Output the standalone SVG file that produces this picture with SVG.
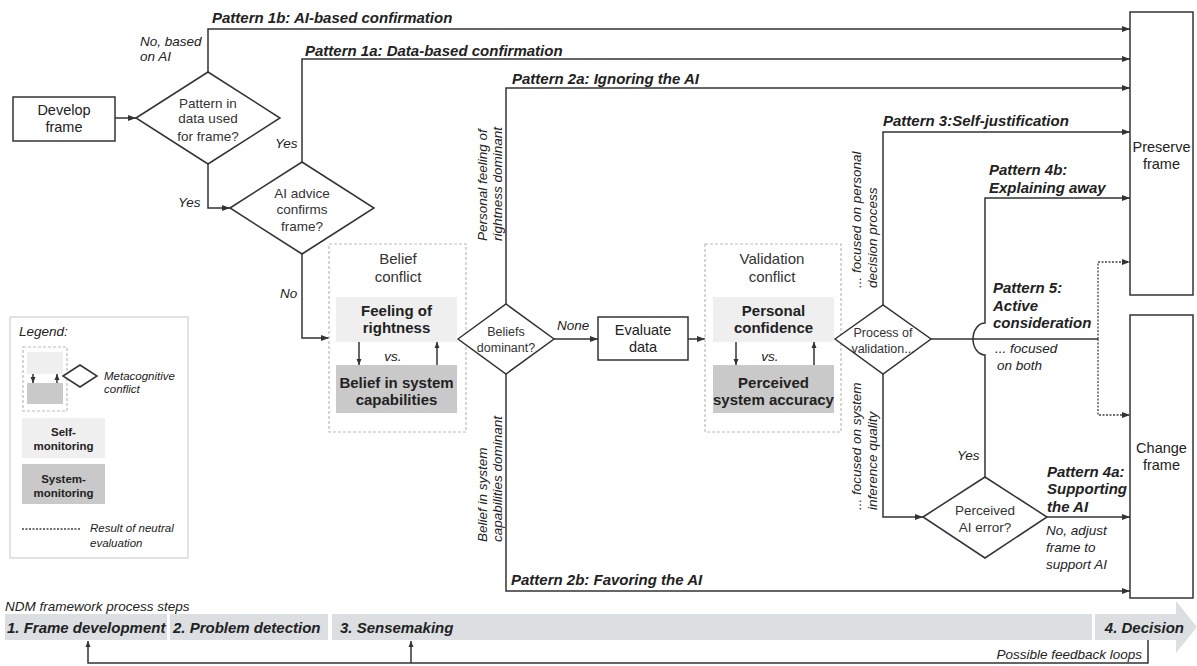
<svg xmlns="http://www.w3.org/2000/svg" width="1197" height="666" viewBox="0 0 1197 666">
<style>
.ln{stroke:#333;stroke-width:1.5;fill:none}
.dot{stroke:#444;stroke-width:1.3;fill:none;stroke-dasharray:2 1.5}
.box{fill:#fff;stroke:#333;stroke-width:1.5}
.dia{fill:#fff;stroke:#333;stroke-width:1.5}
.lite{fill:#efefef}
.dark{fill:#c9c9c9}
.dash{fill:none;stroke:#bbb;stroke-width:1.2;stroke-dasharray:3 2}
.band{fill:#dcdfe2}
text{font-family:"Liberation Sans",Arial,Helvetica,sans-serif;fill:#222}
.pat{font-size:15px;font-weight:bold;font-style:italic}
.it{font-size:13.5px;font-style:italic}
.n{font-size:14.5px;text-anchor:middle}
.d{font-size:13.5px;text-anchor:middle;fill:#333}
.ds{font-size:12.5px;text-anchor:middle;fill:#333}
.b{font-size:15px;font-weight:bold;text-anchor:middle}
.cl{font-size:15px;text-anchor:middle;fill:#333}
.lg{font-size:11.5px;font-style:italic}
.lb{font-size:11.5px;font-weight:bold;text-anchor:middle}
</style>
<defs>
<marker id="ah" markerWidth="8" markerHeight="8" refX="8" refY="4" orient="auto" markerUnits="userSpaceOnUse"><path d="M0,1 L8,4 L0,7 z" fill="#333"/></marker>
<marker id="as" markerWidth="6" markerHeight="6" refX="6" refY="3" orient="auto" markerUnits="userSpaceOnUse"><path d="M0,0.5 L6,3 L0,5.5 z" fill="#333"/></marker>
</defs>

<g id="legend">
<rect x="10" y="317" width="178" height="241" fill="#fff" stroke="#d0d0d0" stroke-width="1.2"/>
<text class="it" x="19" y="336">Legend:</text>
<rect class="dash" x="23" y="347" width="44" height="64"/>
<rect class="lite" x="27" y="352" width="36" height="22"/>
<rect class="dark" x="27" y="383" width="36" height="21"/>
<path class="ln" d="M33,374 V383" marker-end="url(#as)" stroke-width="1.2"/>
<path class="ln" d="M57,383 V374" marker-end="url(#as)" stroke-width="1.2"/>
<polygon class="dia" points="63,376 80,365 97,376 80,387"/>
<text class="lg" x="104" y="380">Metacognitive</text>
<text class="lg" x="104" y="393">conflict</text>
<rect class="lite" x="22" y="418" width="83" height="40"/>
<text class="lb" x="63.5" y="436">Self-</text>
<text class="lb" x="63.5" y="450">monitoring</text>
<rect class="dark" x="22" y="464" width="83" height="40"/>
<text class="lb" x="63.5" y="483">System-</text>
<text class="lb" x="63.5" y="497">monitoring</text>
<path class="dot" d="M22,529 H80"/>
<text class="lg" x="90" y="532">Result of neutral</text>
<text class="lg" x="90" y="547">evaluation</text>
</g>

<g id="connectors">
<path class="ln" d="M115,118 H136" marker-end="url(#ah)"/>
<path class="ln" d="M208,72 V29 H1130" marker-end="url(#ah)"/>
<path class="ln" d="M208,164 V208 H230" marker-end="url(#ah)"/>
<path class="ln" d="M302,162 V59 H1130" marker-end="url(#ah)"/>
<path class="ln" d="M302,254 V338 H329" marker-end="url(#ah)"/>
<path class="ln" d="M506,304 V88 H1130" marker-end="url(#ah)"/>
<path class="ln" d="M506,374 V591 H1130" marker-end="url(#ah)"/>
<path class="ln" d="M554,339 H598" marker-end="url(#ah)"/>
<path class="ln" d="M688,339 H705" marker-end="url(#ah)"/>
<path class="ln" d="M883,305 V132 H1130" marker-end="url(#ah)"/>
<path class="ln" d="M883,374 V517 H923" marker-end="url(#ah)"/>
<path class="ln" d="M985,477 V355 A12,16 0 0 1 985,323 V198 H1130" marker-end="url(#ah)"/>
<path class="ln" d="M1047,517 H1130" marker-end="url(#ah)"/>
<path class="ln" d="M931,339 H1098"/>
<path class="dot" d="M1098,339 V262 H1130" marker-end="url(#ah)"/>
<path class="dot" d="M1098,339 V415 H1130" marker-end="url(#ah)"/>
<path class="ln" d="M359,342 V365" marker-end="url(#as)"/>
<path class="ln" d="M437,365 V342" marker-end="url(#as)"/>
<path class="ln" d="M736,342 V365" marker-end="url(#as)"/>
<path class="ln" d="M814,365 V342" marker-end="url(#as)"/>
</g>

<g id="connector-labels">
<text class="pat" x="212" y="23">Pattern 1b: AI-based confirmation</text>
<text class="it" x="140" y="46">No, based</text>
<text class="it" x="140" y="61">on AI</text>
<text class="pat" x="305" y="56">Pattern 1a: Data-based confirmation</text>
<text class="it" x="275" y="148">Yes</text>
<text class="it" x="178" y="207">Yes</text>
<text class="it" x="280" y="298">No</text>
<text class="pat" x="512" y="84">Pattern 2a: Ignoring the AI</text>
<text class="pat" x="511" y="585">Pattern 2b: Favoring the AI</text>
<text class="it" transform="translate(487,241) rotate(-90)">Personal feeling of</text>
<text class="it" transform="translate(502,241) rotate(-90)">rightness dominant</text>
<text class="it" transform="translate(487,542) rotate(-90)">Belief in system</text>
<text class="it" transform="translate(502,542) rotate(-90)">capabilities dominant</text>
<text class="it" x="557" y="330">None</text>
<text class="pat" x="883" y="126">Pattern 3:Self-justification</text>
<text class="it" transform="translate(861,288) rotate(-90)">... focused on personal</text>
<text class="it" transform="translate(877,288) rotate(-90)">decision process</text>
<text class="it" transform="translate(861,510) rotate(-90)">... focused on system</text>
<text class="it" transform="translate(877,510) rotate(-90)">inference quality</text>
<text class="pat" x="989" y="175">Pattern 4b:</text>
<text class="pat" x="989" y="193">Explaining away</text>
<text class="pat" x="993" y="293">Pattern 5:</text>
<text class="pat" x="993" y="311">Active</text>
<text class="pat" x="993" y="328">consideration</text>
<text class="it" x="995" y="353">... focused</text>
<text class="it" x="997" y="370">on both</text>
<text class="it" x="957" y="460">Yes</text>
<text class="pat" x="1047" y="477">Pattern 4a:</text>
<text class="pat" x="1047" y="494">Supporting</text>
<text class="pat" x="1047" y="512">the AI</text>
<text class="it" x="1046" y="535">No, adjust</text>
<text class="it" x="1046" y="552">frame to</text>
<text class="it" x="1046" y="569">support AI</text>
</g>

<g id="develop-frame">
<rect class="box" x="13" y="97" width="102" height="44"/>
<text class="n" x="64" y="115">Develop</text>
<text class="n" x="64" y="132">frame</text>
</g>

<g id="pattern-in-data">
<polygon class="dia" points="136,118 208,72 280,118 208,164"/>
<text class="d" x="208" y="108">Pattern in</text>
<text class="d" x="208" y="123">data used</text>
<text class="d" x="208" y="141">for frame?</text>
</g>

<g id="ai-advice">
<polygon class="dia" points="230,208 302,162 374,208 302,254"/>
<text class="d" x="302" y="198">AI advice</text>
<text class="d" x="302" y="214">confirms</text>
<text class="d" x="302" y="231">frame?</text>
</g>

<g id="belief-conflict">
<rect class="dash" x="329" y="244" width="137" height="188"/>
<text class="cl" x="398" y="264">Belief</text>
<text class="cl" x="398" y="282">conflict</text>
<rect class="lite" x="336" y="297" width="121" height="45"/>
<text class="b" x="396.5" y="316">Feeling of</text>
<text class="b" x="396.5" y="333">rightness</text>
<rect class="dark" x="336" y="365" width="121" height="48"/>
<text class="b" x="396.5" y="388">Belief in system</text>
<text class="b" x="396.5" y="405">capabilities</text>
<text class="it" x="393" y="361" text-anchor="middle">vs.</text>
</g>

<g id="beliefs-dominant">
<polygon class="dia" points="458,339 506,304 554,339 506,374"/>
<text class="ds" x="506" y="336">Beliefs</text>
<text class="ds" x="506" y="352">dominant?</text>
</g>

<g id="evaluate-data">
<rect class="box" x="598" y="317" width="90" height="43"/>
<text class="n" x="643" y="335">Evaluate</text>
<text class="n" x="643" y="352">data</text>
</g>

<g id="validation-conflict">
<rect class="dash" x="705" y="244" width="136" height="188"/>
<text class="cl" x="772" y="264">Validation</text>
<text class="cl" x="772" y="282">conflict</text>
<rect class="lite" x="713" y="297" width="121" height="45"/>
<text class="b" x="773.5" y="316">Personal</text>
<text class="b" x="773.5" y="333">confidence</text>
<rect class="dark" x="713" y="365" width="121" height="48"/>
<text class="b" x="773.5" y="388">Perceived</text>
<text class="b" x="773.5" y="405">system accuracy</text>
<text class="it" x="770" y="361" text-anchor="middle">vs.</text>
</g>

<g id="process-of-validation">
<polygon class="dia" points="835,339 883,305 931,339 883,374"/>
<text class="ds" x="883" y="337">Process of</text>
<text class="ds" x="883" y="353">validation...</text>
</g>

<g id="perceived-ai-error">
<polygon class="dia" points="923,517 985,477 1047,517 985,558"/>
<text class="d" x="985" y="515">Perceived</text>
<text class="d" x="985" y="532">AI error?</text>
</g>

<g id="preserve-frame">
<rect class="box" x="1130" y="12" width="63" height="283"/>
<text class="n" x="1161.5" y="152">Preserve</text>
<text class="n" x="1161.5" y="169">frame</text>
</g>

<g id="change-frame">
<rect class="box" x="1130" y="315" width="63" height="283"/>
<text class="n" x="1161.5" y="453">Change</text>
<text class="n" x="1161.5" y="470">frame</text>
</g>

<g id="process-steps">
<text class="it" x="5" y="611">NDM framework process steps</text>
<rect class="band" x="5" y="614" width="162" height="26"/>
<rect class="band" x="170" y="614" width="158" height="26"/>
<rect class="band" x="332" y="614" width="760" height="26"/>
<polygon class="band" points="1095,614 1176,614 1176,601 1197,627 1176,653 1176,640 1095,640"/>
<text class="pat" x="7" y="633">1. Frame development</text>
<text class="pat" x="173" y="633">2. Problem detection</text>
<text class="pat" x="340" y="633">3. Sensemaking</text>
<text class="pat" x="1184" y="633" text-anchor="end">4. Decision</text>
</g>

<g id="feedback-loops">
<path class="ln" d="M1148,640 V663 H88 V641" marker-end="url(#as)"/>
<path class="ln" d="M411,663 V641" marker-end="url(#as)"/>
<text class="it" x="1142" y="659" text-anchor="end">Possible feedback loops</text>
</g>
</svg>
